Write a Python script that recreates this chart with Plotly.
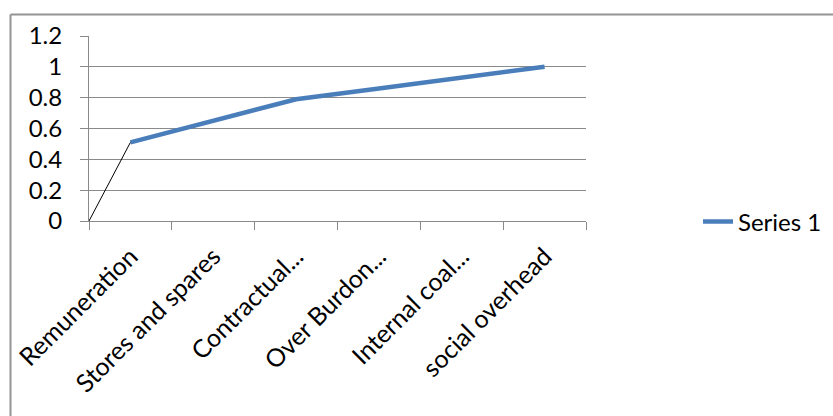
import plotly.graph_objects as go

# Cost heads (category axis) and cumulative share values
categories = [
    "Remuneration",
    "Stores and spares",
    "Contractual...",
    "Over Burdon...",
    "Internal coal...",
    "social overhead",
]
series_1 = [0.51, 0.65, 0.79, 0.86, 0.93, 1.0]
series_name = "Series 1"
y_ticks = [0, 0.2, 0.4, 0.6, 0.8, 1.0, 1.2]
y_tick_text = ["0", "0.2", "0.4", "0.6", "0.8", "1", "1.2"]

W, H = 833, 416
ML, MR, MT, MB = 89, 247, 36, 195
PW, PH = W - ML - MR, H - MT - MB

FONT = "Lato"
FS = 24
GRID = "#8a8a8a"
BLUE = "#4a7ebb"


def px_to_paper_x(px):
    return (px - ML) / PW


def px_to_paper_y(py):
    return (H - MB - py) / PH


fig = go.Figure()
fig.add_trace(
    go.Scatter(
        x=categories,
        y=series_1,
        mode="lines",
        name=series_name,
        line=dict(color=BLUE, width=4.5),
        showlegend=True,
    )
)

shapes = [
    # connector from the origin to the first point
    dict(
        type="line", xref="x", yref="y",
        x0=-0.5, y0=0, x1=0, y1=series_1[0],
        line=dict(color="black", width=1),
    ),
    # chart frame (top and left edges)
    dict(
        type="line", xref="paper", yref="paper",
        x0=px_to_paper_x(10.5), y0=px_to_paper_y(14.5),
        x1=px_to_paper_x(W + 5), y1=px_to_paper_y(14.5),
        line=dict(color="#949494", width=2),
    ),
    dict(
        type="line", xref="paper", yref="paper",
        x0=px_to_paper_x(10.5), y0=px_to_paper_y(14.5),
        x1=px_to_paper_x(10.5), y1=px_to_paper_y(H + 5),
        line=dict(color="#949494", width=2),
    ),
]

fig.update_layout(
    width=W,
    height=H,
    margin=dict(l=ML, r=MR, t=MT, b=MB, autoexpand=False),
    paper_bgcolor="white",
    plot_bgcolor="white",
    font=dict(family=FONT, size=FS, color="black"),
    shapes=shapes,
    showlegend=True,
    legend=dict(
        x=px_to_paper_x(698),
        y=px_to_paper_y(222),
        xanchor="left",
        yanchor="middle",
        bgcolor="rgba(0,0,0,0)",
        font=dict(family=FONT, size=FS, color="black"),
        tracegroupgap=0,
    ),
    xaxis=dict(
        type="category",
        range=[-0.5, len(categories) - 0.5],
        tickson="boundaries",
        ticks="outside",
        ticklen=8,
        tickwidth=1,
        tickcolor=GRID,
        tickangle=-45,
        ticklabelstandoff=10,
        showline=True,
        linecolor=GRID,
        linewidth=1,
        showgrid=False,
        zeroline=False,
        tickfont=dict(family=FONT, size=25, color="black"),
    ),
    yaxis=dict(
        range=[0, 1.2],
        tickmode="array",
        tickvals=y_ticks,
        ticktext=y_tick_text,
        ticks="outside",
        ticklen=8,
        tickwidth=1,
        tickcolor=GRID,
        ticklabelstandoff=13,
        showline=True,
        linecolor=GRID,
        linewidth=1,
        showgrid=True,
        gridcolor=GRID,
        gridwidth=1,
        zeroline=False,
        tickfont=dict(family=FONT, size=FS, color="black"),
    ),
)

fig.write_html("out.html")
